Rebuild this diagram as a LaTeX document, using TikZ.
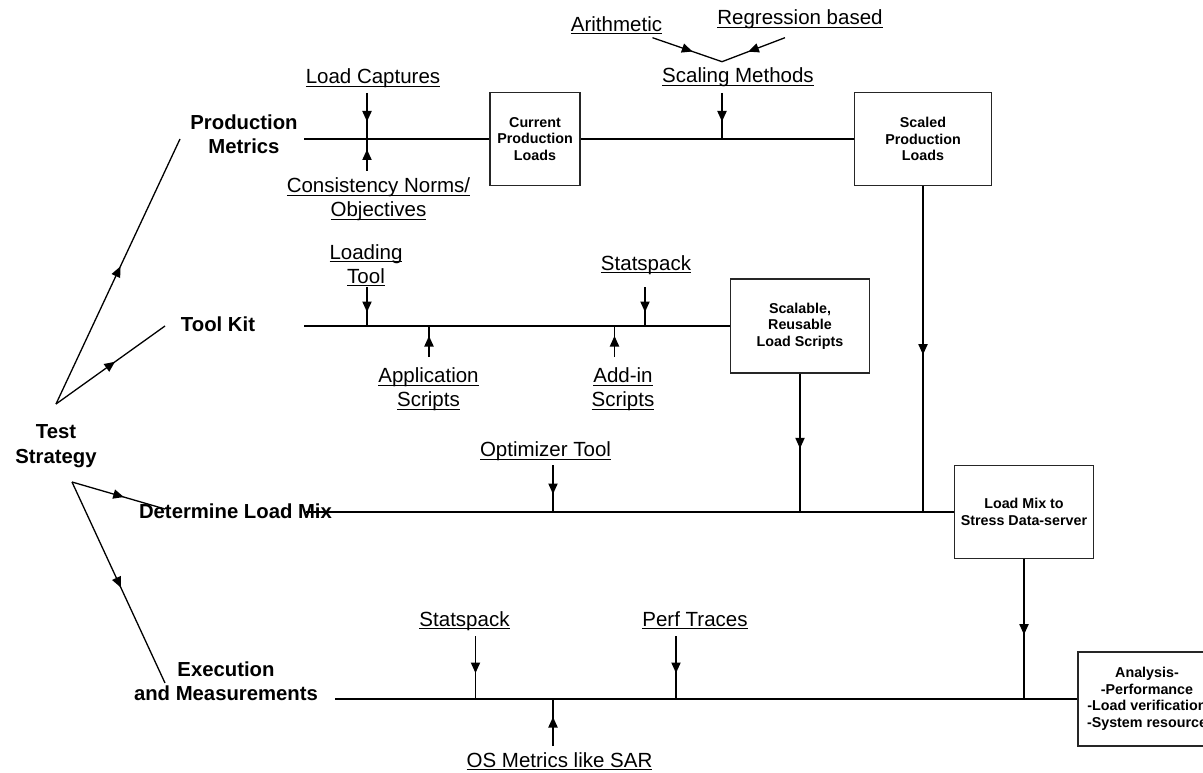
\documentclass[tikz,border=0pt]{standalone}
\usepackage{fontspec}
\setmainfont{Liberation Sans}
\usetikzlibrary{decorations.markings}

% underlined word with a fixed rule position
\newsavebox\ulbox
\newcommand\ulword[1]{\sbox\ulbox{#1}\rlap{\raisebox{0pt}[0pt][0pt]{\rule[-3pt]{\wd\ulbox}{1.2pt}}}\usebox\ulbox}
\newcommand\ultwo[2]{\begin{tabular}[t]{@{}c@{}}\ulword{#1}\\\ulword{#2}\end{tabular}}
\newcommand\twolines[2]{\begin{tabular}[t]{@{}c@{}}#1\\#2\end{tabular}}

\tikzset{
  lbl/.style={anchor=base, inner sep=0pt, font=\fontsize{20.5}{24}\selectfont},
  head/.style={anchor=base, inner sep=0pt, font=\fontsize{20.3}{24.7}\selectfont\bfseries},
  stage/.style={draw=black!85, line width=1.4pt, inner sep=0pt, align=center,
                font=\fontsize{14.3}{16.5}\selectfont\bfseries},
  wire/.style={line width=1.3pt},
  % solid triangular head half way along the connector
  feed/.style={line width=1.3pt, postaction=decorate,
    decoration={markings, mark=at position 0.5 with
      {\fill (5.5pt,0pt) -- (-5pt,4.8pt) -- (-5pt,-4.8pt) -- cycle;}}},
}

\begin{document}
\begin{tikzpicture}[x=1pt,y=-1pt]
\useasboundingbox[fill=white] (0,0) rectangle (1203,773);

% ---- headings ----
\node[head] (ts)  at (56,438.3)  {\twolines{Test}{Strategy}};
\node[head] (pm)  at (244,129.3) {\twolines{Production}{Metrics}};
\node[head] (tk)  at (218,331.7) {Tool Kit};
\node[head] (dlm) at (235.5,518.3) {Determine Load Mix};
\node[head] (em)  at (226,676)   {\twolines{Execution}{and Measurements}};

% ---- stage boxes ----
\node[stage, minimum width=90pt,  minimum height=93pt] (cur)    at (535,139)  {Current\\Production\\Loads};
\node[stage, minimum width=137pt, minimum height=93pt] (scaled) at (923,139)  {Scaled\\Production\\Loads};
\node[stage, minimum width=139pt, minimum height=94pt] (scal)   at (800,326)  {Scalable,\\Reusable\\Load Scripts};
\node[stage, minimum width=139pt, minimum height=93pt] (mix)    at (1024,512) {Load Mix to\\Stress Data-server};
\node[stage, minimum width=138pt, minimum height=94pt] (ana)    at (1147,699) {Analysis-\\-Performance\\-Load verification\\-System resource};

% ---- input labels ----
\node[lbl] (lc)  at (373,84)      {\ulword{Load Captures}};
\node[lbl] (cn)  at (378.5,193)   {\ultwo{Consistency Norms/}{Objectives}};
\node[lbl] (sm)  at (738,83)      {\ulword{Scaling Methods}};
\node[lbl] (ar)  at (616.5,31.5)  {\ulword{Arithmetic}};
\node[lbl] (rb)  at (800,25)      {\ulword{Regression based}};
\node[lbl] (lt)  at (366,259)     {\ultwo{Loading}{Tool}};
\node[lbl] (ap)  at (428.5,382.7) {\ultwo{Application}{Scripts}};
\node[lbl] (ad)  at (623,382.7)   {\ultwo{Add-in}{Scripts}};
\node[lbl] (sp1) at (646,270)     {\ulword{Statspack}};
\node[lbl] (ot)  at (545.5,456.7) {\ulword{Optimizer Tool}};
\node[lbl] (sp2) at (464.5,626)   {\ulword{Statspack}};
\node[lbl] (pt)  at (695,626)     {\ulword{Perf Traces}};
\node[lbl] (os)  at (559.5,767)   {\ulword{OS Metrics like SAR}};

% ---- strategy branches ----
\coordinate (tsU) at (56,404);
\coordinate (tsL) at (72,482);
\coordinate (pmE) at (180,139);
\coordinate (tkE) at (165,326);
\coordinate (dlE) at (165,509);
\coordinate (emE) at (165,683);
\draw[feed] (tsU) -- (pmE);
\draw[feed] (tsU) -- (tkE);
\draw[feed] (tsL) -- (dlE);
\draw[feed] (tsL) -- (emE);

% ---- production metrics line ----
\coordinate (pmW) at (304,139);
\draw[wire] (pmW) -- (cur.west);
\draw[wire] (cur.east) -- (scaled.west);
\coordinate (lcT) at (367,93);    \coordinate (lcB) at (367,139);
\coordinate (cnB) at (367,171);
\draw[feed] (lcT) -- (lcB);
\draw[feed] (cnB) -- (lcB);
\coordinate (smT) at (722,93);    \coordinate (smB) at (722,139);
\draw[feed] (smT) -- (smB);
\coordinate (apex) at (722,61.7);
\coordinate (arE) at (652.5,37.7);
\coordinate (rbE) at (785,37.7);
\draw[feed] (arE) -- (apex);
\draw[feed] (rbE) -- (apex);

% ---- tool kit line ----
\coordinate (tkW) at (304,326);
\draw[wire] (tkW) -- (scal.west);
\coordinate (ltT) at (367,287);   \coordinate (ltB) at (367,326);
\draw[feed] (ltT) -- (ltB);
\coordinate (apB) at (429,357);   \coordinate (apT) at (429,326);
\draw[feed] (apB) -- (apT);
\coordinate (adB) at (614.5,357); \coordinate (adT) at (614.5,326);
\draw[feed] (adB) -- (adT);
\coordinate (spT) at (645,287);   \coordinate (spB) at (645,326);
\draw[feed] (spT) -- (spB);

% ---- load mix line ----
\coordinate (dlW) at (306,512);
\draw[wire] (dlW) -- (mix.west);
\coordinate (j1) at (923,512);
\coordinate (j2) at (800,512);
\draw[feed] (scaled.south) -- (j1);
\draw[feed] (scal.south) -- (j2);
\coordinate (otT) at (553,465);   \coordinate (otB) at (553,512);
\draw[feed] (otT) -- (otB);

% ---- execution line ----
\coordinate (emW) at (335,699);
\draw[wire] (emW) -- (ana.west);
\coordinate (j3) at (1024,699);
\draw[feed] (mix.south) -- (j3);
\coordinate (s2T) at (475.5,636); \coordinate (s2B) at (475.5,699);
\draw[feed] (s2T) -- (s2B);
\coordinate (ptT) at (676,636);   \coordinate (ptB) at (676,699);
\draw[feed] (ptT) -- (ptB);
\coordinate (osB) at (553,746);   \coordinate (osT) at (553,699);
\draw[feed] (osB) -- (osT);
\end{tikzpicture}
\end{document}
